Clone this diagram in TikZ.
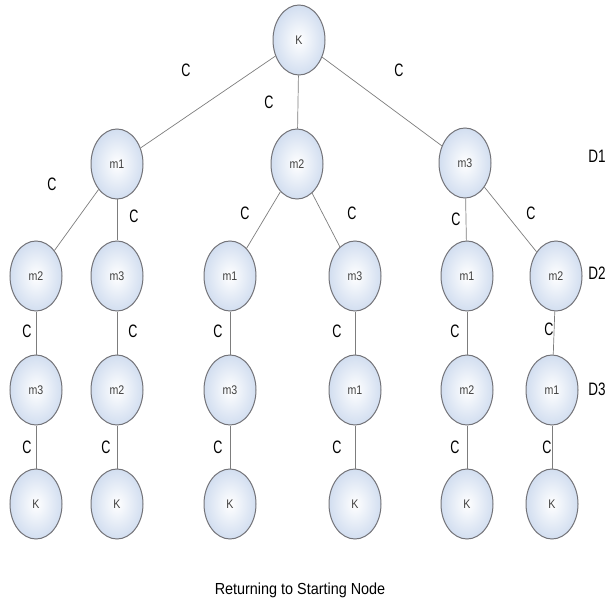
\documentclass[tikz,border=0pt]{standalone}
\usepackage{fontspec}
\setmainfont{Liberation Sans}
\usetikzlibrary{shapes.geometric}
\definecolor{edgegray}{RGB}{125,125,125}
\definecolor{rimgray}{RGB}{115,115,120}
\definecolor{bubble}{RGB}{210,222,240}
\tikzset{
  city/.style={ellipse, draw=rimgray, line width=1pt, inner sep=0pt,
    minimum width=52pt, minimum height=70pt,
    inner color=white, outer color=bubble,
    font=\fontsize{12.5}{14}\selectfont, text=black!75},
  link/.style={draw=edgegray, line width=0.7pt},
  cost/.style={font=\fontsize{18}{20}\selectfont, inner sep=0pt, xscale=0.7},
  depth/.style={font=\fontsize{18}{20}\selectfont, inner sep=0pt, xscale=0.75},
}
\newcommand{\nm}[1]{\scalebox{0.85}[1]{#1}}
\begin{document}
\begin{tikzpicture}[x=1pt,y=-1pt]
\useasboundingbox (0,0) rectangle (615,609);
% root
\node[city] (root) at (299,40) {\nm{K}};
% depth 1
\node[city] (a) at (117,164) {\nm{m1}};
\node[city] (b) at (297,164) {\nm{m2}};
\node[city] (c) at (465,163) {\nm{m3}};
% depth 2
\node[city] (a1) at (36,276) {\nm{m2}};
\node[city] (a2) at (117,276) {\nm{m3}};
\node[city] (b1) at (230,276) {\nm{m1}};
\node[city] (b2) at (355,276) {\nm{m3}};
\node[city] (c1) at (467,276) {\nm{m1}};
\node[city] (c2) at (556,276) {\nm{m2}};
% depth 3
\node[city] (a11) at (36,390) {\nm{m3}};
\node[city] (a21) at (117,390) {\nm{m2}};
\node[city] (b11) at (230,390) {\nm{m3}};
\node[city] (b21) at (355,390) {\nm{m1}};
\node[city] (c11) at (467,390) {\nm{m2}};
\node[city] (c21) at (552,390) {\nm{m1}};
% back to the start
\node[city] (a111) at (36,504) {\nm{K}};
\node[city] (a211) at (117,504) {\nm{K}};
\node[city] (b111) at (230,504) {\nm{K}};
\node[city] (b211) at (355,504) {\nm{K}};
\node[city] (c111) at (467,504) {\nm{K}};
\node[city] (c211) at (552,504) {\nm{K}};
% connectors
\draw[link] (root) -- (a);
\draw[link] (root) -- (b);
\draw[link] (root) -- (c);
\draw[link] (a) -- (a1);
\draw[link] (a) -- (a2);
\draw[link] (b) -- (b1);
\draw[link] (b) -- (b2);
\draw[link] (c) -- (c1);
\draw[link] (c) -- (c2);
\draw[link] (a1) -- (a11);
\draw[link] (a2) -- (a21);
\draw[link] (b1) -- (b11);
\draw[link] (b2) -- (b21);
\draw[link] (c1) -- (c11);
\draw[link] (c2) -- (c21);
\draw[link] (a11) -- (a111);
\draw[link] (a21) -- (a211);
\draw[link] (b11) -- (b111);
\draw[link] (b21) -- (b211);
\draw[link] (c11) -- (c111);
\draw[link] (c21) -- (c211);
% cost labels
\node[cost] (l1) at (186,70) {C};
\node[cost] (l2) at (269,102) {C};
\node[cost] (l3) at (399,70) {C};
\node[cost] (l4) at (52,184) {C};
\node[cost] (l5) at (134,216) {C};
\node[cost] (l6) at (245,213) {C};
\node[cost] (l7) at (352,213) {C};
\node[cost] (l8) at (456,219) {C};
\node[cost] (l9) at (531,213) {C};
\node[cost] (l10) at (27,331) {C};
\node[cost] (l11) at (133,331) {C};
\node[cost] (l12) at (218,331) {C};
\node[cost] (l13) at (337,331) {C};
\node[cost] (l14) at (455,331) {C};
\node[cost] (l15) at (549,329) {C};
\node[cost] (l16) at (27,447) {C};
\node[cost] (l17) at (106,447) {C};
\node[cost] (l18) at (218,447) {C};
\node[cost] (l19) at (337,447) {C};
\node[cost] (l20) at (455,447) {C};
\node[cost] (l21) at (547,447) {C};
% depth markers
\node[depth] (d1) at (597,156) {D1};
\node[depth] (d2) at (597,273) {D2};
\node[depth] (d3) at (597,389) {D3};
% caption
\node[font=\fontsize{16}{18}\selectfont, xscale=0.9] (cap) at (300,590) {Returning to Starting Node};
\end{tikzpicture}
\end{document}
